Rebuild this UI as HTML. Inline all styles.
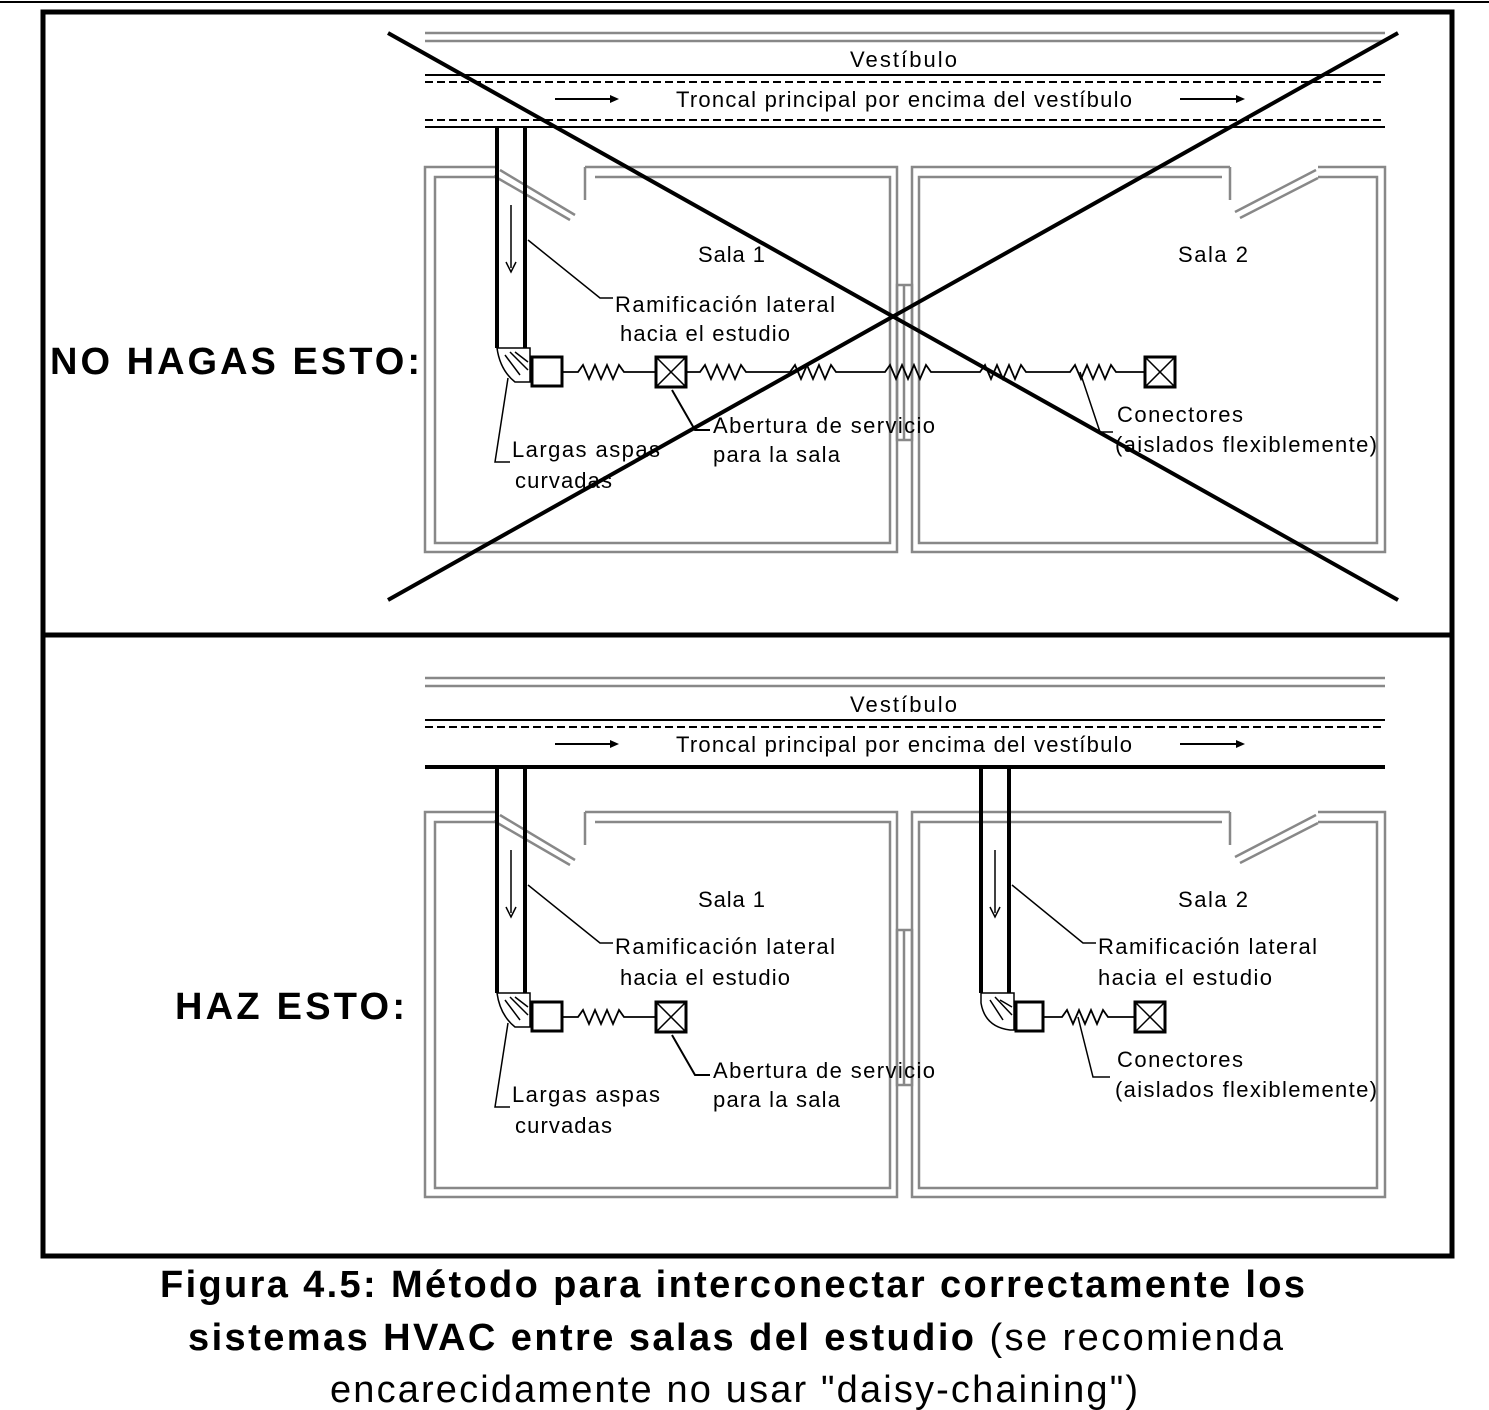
<!DOCTYPE html>
<html><head><meta charset="utf-8"><style>
html,body{margin:0;padding:0;background:#fff;width:1489px;height:1410px;overflow:hidden}
svg{display:block}
text{font-family:"Liberation Sans",sans-serif;fill:#000}
.g{stroke:#888;stroke-width:2.5;fill:none}
.k{stroke:#000;fill:none}
.t{font-size:22px}
</style></head><body>
<svg width="1489" height="1410" viewBox="0 0 1489 1410">
<line x1="0" y1="2" x2="1489" y2="2" stroke="#000" stroke-width="2"/>
<rect x="43" y="12" width="1409" height="1244" fill="none" stroke="#000" stroke-width="5"/>
<line x1="43" y1="635" x2="1452" y2="635" stroke="#000" stroke-width="5"/>

<!-- TOP PANEL -->
<g>
<line class="g" x1="425" y1="33" x2="1385" y2="33"/><line class="g" x1="425" y1="41" x2="1385" y2="41"/>
<text x="850" y="67" class="t" textLength="107" lengthAdjust="spacing">Vestíbulo</text>
<line class="k" x1="425" y1="75" x2="1385" y2="75" stroke-width="2"/>
<line class="k" x1="425" y1="82" x2="1385" y2="82" stroke-width="2" stroke-dasharray="8,4"/>
<text x="676" y="107" class="t" textLength="456" lengthAdjust="spacing">Troncal principal por encima del vestíbulo</text>
<line class="k" x1="555" y1="99" x2="612" y2="99" stroke-width="2"/><path d="M610,95 L619,99 L610,103Z"/>
<line class="k" x1="1180" y1="99" x2="1238" y2="99" stroke-width="2"/><path d="M1236,95 L1245,99 L1236,103Z"/>
<line class="k" x1="425" y1="120" x2="1385" y2="120" stroke-width="2" stroke-dasharray="8,4"/>
<line class="k" x1="425" y1="127" x2="1385" y2="127" stroke-width="2"/>
<path class="g" d="M585,167 H897 V552 H425 V167 H497 M585,167 V200 M575,215 L500,170"/>
<path class="g" d="M595,177 H890 V543 H435 V177 H497 M494,176 L570,220"/>
<path class="g" d="M1230,167 H912 V552 H1385 V167 H1318 M1230,167 V200 M1235,212 L1316,170"/>
<path class="g" d="M1222,177 H919 V543 H1377 V177 H1318 M1240,218 L1318,178"/>
<rect class="g" x="897" y="285" width="15" height="155" stroke-width="1.5"/>
<line class="g" x1="904" y1="285" x2="904" y2="440" stroke-width="1.5"/>
<line class="k" x1="497" y1="127" x2="497" y2="348" stroke-width="4"/>
<line class="k" x1="525" y1="127" x2="525" y2="348" stroke-width="4"/>
<line class="k" x1="511" y1="205" x2="511" y2="268" stroke-width="1.5"/><path class="k" d="M506,262 L511,272 L516,262" stroke-width="1.5"/>
<path class="k" d="M497,348 H530 V382 H515 Q500,370 497,348Z M505,355 L520,375 M510,352 L528,370 M515,352 L528,362" stroke-width="1.5"/>
<rect class="k" x="532" y="357" width="30" height="29" stroke-width="3"/>
<path class="k" stroke-width="1.8" d="M562,372 H578 l5,-7 l6,14 l6,-14 l6,14 l6,-14 l6,14 l6,-14 l5,7 H656"/>
<rect class="k" x="656" y="357" width="30" height="30" stroke-width="3"/><path class="k" d="M656,357 L686,387 M686,357 L656,387" stroke-width="1.5"/>
<path class="k" stroke-width="1.8" d="M686,372 H700 l5,-7 l6,14 l6,-14 l6,14 l6,-14 l6,14 l6,-14 l5,7 H790 l5,-7 l6,14 l6,-14 l6,14 l6,-14 l6,14 l6,-14 l5,7 H885 l5,-7 l6,14 l6,-14 l6,14 l6,-14 l6,14 l6,-14 l5,7 H980 l5,-7 l6,14 l6,-14 l6,14 l6,-14 l6,14 l6,-14 l5,7 H1070 l5,-7 l6,14 l6,-14 l6,14 l6,-14 l6,14 l6,-14 l5,7 H1145"/>
<rect class="k" x="1145" y="357" width="30" height="30" stroke-width="3"/><path class="k" d="M1145,357 L1175,387 M1175,357 L1145,387" stroke-width="1.5"/>
<path class="k" stroke-width="1.5" d="M528,240 L600,298 H613"/>
<path class="k" stroke-width="1.5" d="M508,378 L495,462 H510"/>
<path class="k" stroke-width="2" d="M672,390 L695,430 H710"/>
<path class="k" stroke-width="1.5" d="M1080,372 L1100,432 H1113"/>
<text x="698" y="262" class="t" textLength="67" lengthAdjust="spacing">Sala 1</text>
<text x="1178" y="262" class="t" textLength="70" lengthAdjust="spacing">Sala 2</text>
<text x="615" y="312" class="t" textLength="220" lengthAdjust="spacing">Ramificación lateral</text>
<text x="620" y="341" class="t" textLength="170" lengthAdjust="spacing">hacia el estudio</text>
<text x="512" y="457" class="t" textLength="148" lengthAdjust="spacing">Largas aspas</text>
<text x="515" y="488" class="t" textLength="97" lengthAdjust="spacing">curvadas</text>
<text x="713" y="433" class="t" textLength="222" lengthAdjust="spacing">Abertura de servicio</text>
<text x="713" y="462" class="t" textLength="127" lengthAdjust="spacing">para la sala</text>
<text x="1117" y="422" class="t" textLength="126" lengthAdjust="spacing">Conectores</text>
<text x="1115" y="452" class="t" textLength="262" lengthAdjust="spacing">(aislados flexiblemente)</text>
<text x="50" y="374" style="font-size:38px;font-weight:bold" textLength="370" lengthAdjust="spacing">NO HAGAS ESTO:</text>
<line x1="388" y1="33" x2="1398" y2="600" stroke="#000" stroke-width="4"/>
<line x1="388" y1="600" x2="1398" y2="33" stroke="#000" stroke-width="4"/>
</g>

<!-- BOTTOM PANEL -->
<g transform="translate(0,645)">
<line class="g" x1="425" y1="33" x2="1385" y2="33"/><line class="g" x1="425" y1="41" x2="1385" y2="41"/>
<text x="850" y="67" class="t" textLength="107" lengthAdjust="spacing">Vestíbulo</text>
<line class="k" x1="425" y1="75" x2="1385" y2="75" stroke-width="2"/>
<line class="k" x1="425" y1="82" x2="1385" y2="82" stroke-width="2" stroke-dasharray="8,4"/>
<text x="676" y="107" class="t" textLength="456" lengthAdjust="spacing">Troncal principal por encima del vestíbulo</text>
<line class="k" x1="555" y1="99" x2="612" y2="99" stroke-width="2"/><path d="M610,95 L619,99 L610,103Z"/>
<line class="k" x1="1180" y1="99" x2="1238" y2="99" stroke-width="2"/><path d="M1236,95 L1245,99 L1236,103Z"/>
<line class="k" x1="425" y1="122" x2="1385" y2="122" stroke-width="4"/>
<path class="g" d="M585,167 H897 V552 H425 V167 H497 M585,167 V200 M575,215 L500,170"/>
<path class="g" d="M595,177 H890 V543 H435 V177 H497 M494,176 L570,220"/>
<path class="g" d="M1230,167 H912 V552 H1385 V167 H1318 M1230,167 V200 M1235,212 L1316,170"/>
<path class="g" d="M1222,177 H919 V543 H1377 V177 H1318 M1240,218 L1318,178"/>
<rect class="g" x="897" y="285" width="15" height="155" stroke-width="1.5"/>
<line class="g" x1="904" y1="285" x2="904" y2="440" stroke-width="1.5"/>
<line class="k" x1="497" y1="122" x2="497" y2="348" stroke-width="4"/>
<line class="k" x1="525" y1="122" x2="525" y2="348" stroke-width="4"/>
<line class="k" x1="511" y1="205" x2="511" y2="268" stroke-width="1.5"/><path class="k" d="M506,262 L511,272 L516,262" stroke-width="1.5"/>
<path class="k" d="M497,348 H530 V382 H515 Q500,370 497,348Z M505,355 L520,375 M510,352 L528,370 M515,352 L528,362" stroke-width="1.5"/>
<rect class="k" x="532" y="357" width="30" height="29" stroke-width="3"/>
<path class="k" stroke-width="1.8" d="M562,372 H578 l5,-7 l6,14 l6,-14 l6,14 l6,-14 l6,14 l6,-14 l5,7 H656"/>
<rect class="k" x="656" y="357" width="30" height="30" stroke-width="3"/><path class="k" d="M656,357 L686,387 M686,357 L656,387" stroke-width="1.5"/>
<line class="k" x1="981" y1="122" x2="981" y2="348" stroke-width="4"/>
<line class="k" x1="1009" y1="122" x2="1009" y2="348" stroke-width="4"/>
<line class="k" x1="995" y1="205" x2="995" y2="268" stroke-width="1.5"/><path class="k" d="M990,262 L995,272 L1000,262" stroke-width="1.5"/>
<path class="k" d="M981,348 H1014 V385 H1010 Q985,382 981,358Z M990,355 L1003,375 M995,352 L1012,370 M1000,355 L1012,362" stroke-width="1.5"/>
<rect class="k" x="1016" y="357" width="27" height="29" stroke-width="3"/>
<path class="k" stroke-width="1.8" d="M1043,372 H1062 l5,-7 l6,14 l6,-14 l6,14 l6,-14 l6,14 l6,-14 l5,7 H1135"/>
<rect class="k" x="1135" y="357" width="30" height="30" stroke-width="3"/><path class="k" d="M1135,357 L1165,387 M1165,357 L1135,387" stroke-width="1.5"/>
<path class="k" stroke-width="1.5" d="M528,240 L600,298 H613"/>
<path class="k" stroke-width="1.5" d="M1012,240 L1083,298 H1096"/>
<path class="k" stroke-width="1.5" d="M508,378 L495,462 H510"/>
<path class="k" stroke-width="2" d="M672,390 L695,430 H710"/>
<path class="k" stroke-width="1.5" d="M1078,372 L1093,432 H1110"/>
<text x="698" y="262" class="t" textLength="67" lengthAdjust="spacing">Sala 1</text>
<text x="1178" y="262" class="t" textLength="70" lengthAdjust="spacing">Sala 2</text>
<text x="615" y="309" class="t" textLength="220" lengthAdjust="spacing">Ramificación lateral</text>
<text x="620" y="340" class="t" textLength="170" lengthAdjust="spacing">hacia el estudio</text>
<text x="1098" y="309" class="t" textLength="219" lengthAdjust="spacing">Ramificación lateral</text>
<text x="1098" y="340" class="t" textLength="174" lengthAdjust="spacing">hacia el estudio</text>
<text x="512" y="457" class="t" textLength="148" lengthAdjust="spacing">Largas aspas</text>
<text x="515" y="488" class="t" textLength="97" lengthAdjust="spacing">curvadas</text>
<text x="713" y="433" class="t" textLength="222" lengthAdjust="spacing">Abertura de servicio</text>
<text x="713" y="462" class="t" textLength="127" lengthAdjust="spacing">para la sala</text>
<text x="1117" y="422" class="t" textLength="126" lengthAdjust="spacing">Conectores</text>
<text x="1115" y="452" class="t" textLength="262" lengthAdjust="spacing">(aislados flexiblemente)</text>
<text x="175" y="374" style="font-size:38px;font-weight:bold" textLength="230" lengthAdjust="spacing">HAZ ESTO:</text>
</g>

<text x="160" y="1297" style="font-size:38px;font-weight:bold" textLength="1145" lengthAdjust="spacing">Figura 4.5: Método para interconectar correctamente los</text>
<text x="188" y="1350" style="font-size:38px" textLength="1095" lengthAdjust="spacing"><tspan font-weight="bold">sistemas HVAC entre salas del estudio</tspan> (se recomienda</text>
<text x="330" y="1402" style="font-size:38px" textLength="808" lengthAdjust="spacing">encarecidamente no usar "daisy-chaining")</text>
</svg>
</body></html>
